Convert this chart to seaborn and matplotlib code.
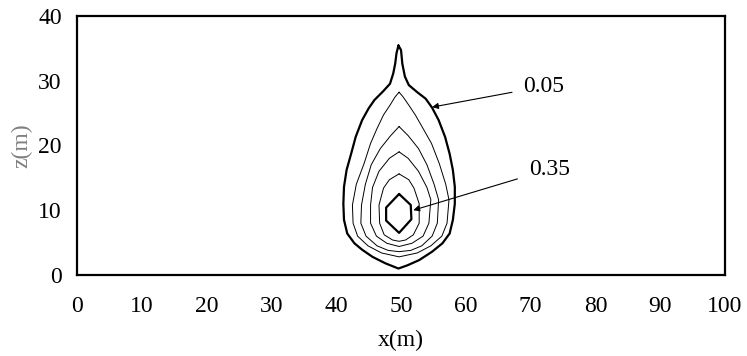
import matplotlib
matplotlib.use("Agg")
import matplotlib.pyplot as plt
import seaborn as sns
import pandas as pd

# Concentration isolines (x, z in metres), outermost to innermost
c005_x = [49.6, 50.0, 50.2, 50.6, 51.2, 52.5, 53.8, 54.8, 55.8, 56.8, 57.5, 58.0, 58.3, 58.3,
          58.0, 57.5, 56.4, 54.8, 52.8, 51.0, 49.6, 47.6, 45.6, 44.0, 42.8, 41.7, 41.2, 41.1,
          41.2, 41.6, 42.3, 43.0, 44.0, 45.0, 45.9, 47.2, 48.3, 48.8, 49.1, 49.3, 49.6]
c005_z = [35.4, 34.7, 32.6, 30.6, 29.3, 28.2, 27.2, 25.8, 23.9, 21.3, 18.7, 16.2, 13.6, 11.0,
          8.5, 6.4, 4.9, 3.6, 2.3, 1.5, 1.0, 1.8, 2.8, 3.9, 4.9, 6.4, 8.5, 11.0,
          13.6, 16.2, 18.7, 21.3, 23.9, 25.7, 27.0, 28.3, 29.5, 31.1, 32.6, 34.2, 35.4]

c1_x = [49.7, 50.3, 51.2, 52.2, 53.4, 54.7, 55.9, 56.9, 57.4, 57.1, 56.3, 54.6, 52.5, 49.7,
        47.0, 44.9, 43.3, 42.6, 42.5, 43.1, 44.3, 45.3, 46.3, 47.3, 48.3, 49.1, 49.7]
c1_z = [28.2, 27.5, 26.2, 24.7, 22.6, 20.3, 17.2, 14.0, 11.6, 8.0, 6.0, 4.5, 3.4, 2.8,
        3.4, 4.5, 6.0, 8.0, 10.8, 14.0, 17.2, 20.3, 22.6, 24.7, 26.2, 27.5, 28.2]

c2_x = [49.7, 51.1, 52.7, 54.0, 55.1, 55.8, 55.6, 54.8, 53.2, 51.5, 49.7, 48.0, 46.3, 44.6,
        43.8, 43.9, 44.5, 45.4, 46.8, 48.4, 49.7]
c2_z = [22.9, 21.5, 19.5, 17.0, 14.0, 11.6, 8.0, 6.0, 4.5, 3.8, 3.6, 3.8, 4.5, 6.0,
        8.0, 10.8, 14.0, 17.0, 19.5, 21.5, 22.9]

c3_x = [49.7, 51.1, 52.7, 54.0, 54.6, 54.3, 53.4, 51.7, 49.7, 47.8, 46.2, 45.3, 45.3, 45.6,
        46.6, 48.2, 49.7]
c3_z = [19.0, 18.0, 16.0, 13.5, 11.6, 8.0, 6.0, 4.9, 4.4, 4.9, 6.0, 8.0, 10.8, 13.5,
        16.0, 18.0, 19.0]

c4_x = [49.7, 51.2, 52.0, 52.8, 52.8, 51.9, 50.7, 49.7, 48.7, 47.4, 46.7, 46.6, 47.3, 48.2, 49.7]
c4_z = [15.6, 14.7, 13.4, 11.0, 8.0, 6.2, 5.4, 5.2, 5.4, 6.2, 8.0, 10.8, 13.4, 14.7, 15.6]

c035_x = [49.7, 51.5, 51.6, 49.7, 47.7, 47.7, 49.7]
c035_z = [12.5, 10.8, 8.6, 6.5, 8.4, 10.4, 12.5]

# Labelled levels: text, text position, arrow target on the isoline
level_labels = ["0.05", "0.35"]
label_x = [68.9, 69.7]
label_z = [29.1, 16.3]
arrow_x = [54.8, 51.9]
arrow_z = [25.9, 10.0]

x_ticks = [0, 10, 20, 30, 40, 50, 60, 70, 80, 90, 100]
z_ticks = [0, 10, 20, 30, 40]

sns.set_theme(style="white")
plt.rcParams["font.family"] = ["Liberation Serif", "DejaVu Serif"]

fig = plt.figure(figsize=(7.47, 3.56), dpi=100)
ax = fig.add_axes([0.1031, 0.2275, 0.8675, 0.7284])

thick = 1.6
thin = 0.7
lines = [
    (c005_x, c005_z, thick),
    (c1_x, c1_z, thin),
    (c2_x, c2_z, thin),
    (c3_x, c3_z, thin),
    (c4_x, c4_z, thin),
    (c035_x, c035_z, thick),
]
for xs, zs, lw in lines:
    df = pd.DataFrame({"x": xs, "z": zs})
    sns.lineplot(data=df, x="x", y="z", sort=False, estimator=None,
                 color="black", linewidth=lw, ax=ax)

for txt, tx, tz, axx, azz in zip(level_labels, label_x, label_z, arrow_x, arrow_z):
    ax.annotate(txt, xy=(axx, azz), xytext=(tx, tz), fontsize=17,
                ha="left", va="center", color="black",
                arrowprops=dict(arrowstyle="-|>", color="black", lw=0.8,
                                mutation_scale=9, shrinkA=6, shrinkB=0))

ax.set_xlim(0, 100)
ax.set_ylim(0, 40)
ax.set_xticks(x_ticks)
ax.set_yticks(z_ticks)
ax.tick_params(axis="x", direction="in", length=9.5, width=0.8,
               pad=15, labelsize=17, labelcolor="black")
ax.tick_params(axis="y", direction="in", length=10.5, width=0.8,
               pad=11, labelsize=17, labelcolor="black")
ax.tick_params(axis="x", color="#333333")
ax.tick_params(axis="y", color="#444444")

for sp in ax.spines.values():
    sp.set_visible(True)
    sp.set_color("black")
    sp.set_linewidth(1.6)

ax.set_xlabel("x(m)", fontsize=17, color="black")
ax.set_ylabel("z(m)", fontsize=17, color="#7f7f7f")
ax.xaxis.set_label_coords(0.5, -0.212)
ax.yaxis.set_label_coords(-0.069, 0.5)

fig.savefig("out.png", dpi=100, facecolor="white")
